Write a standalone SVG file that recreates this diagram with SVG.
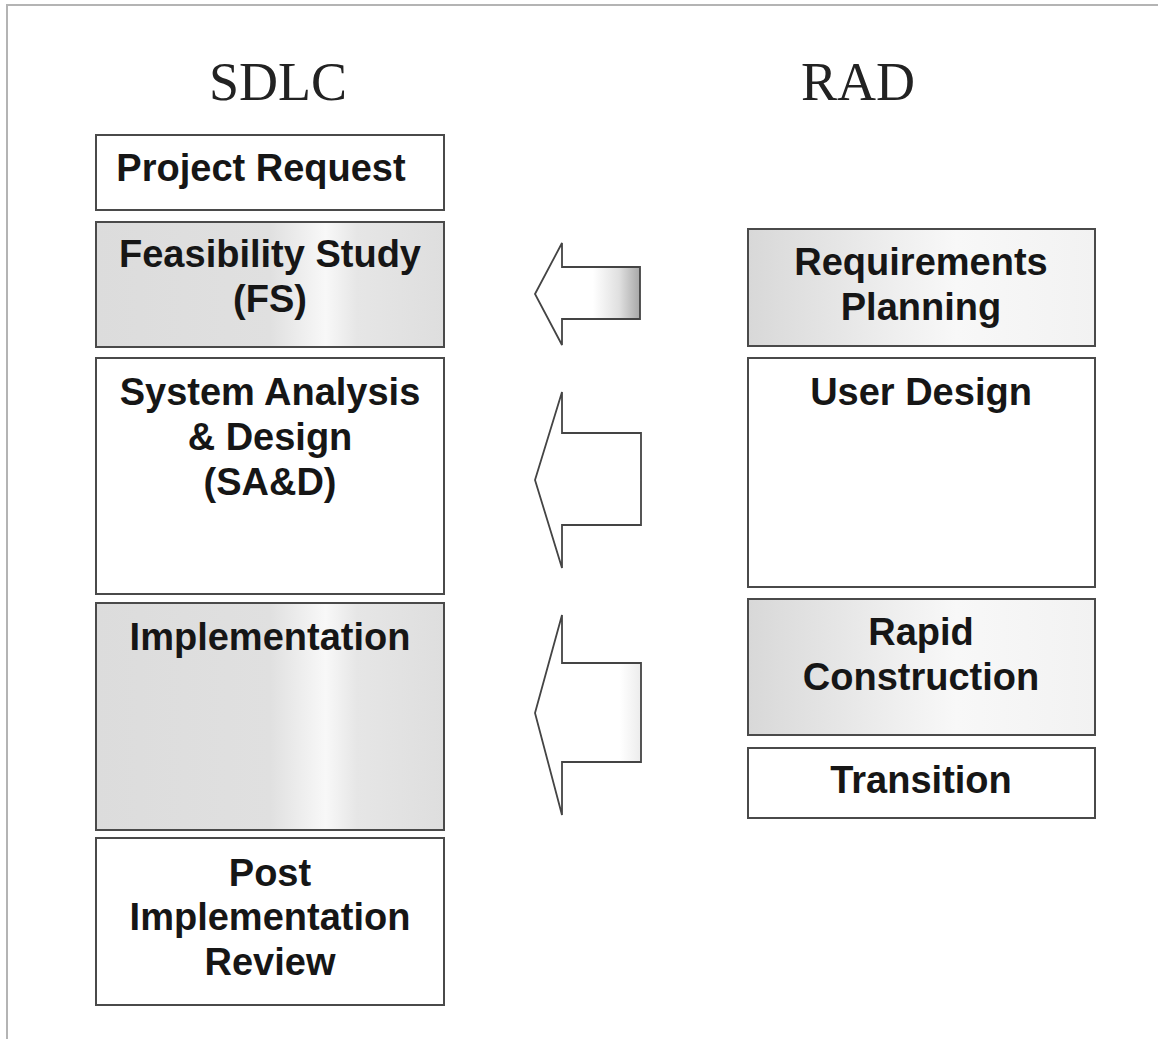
<svg xmlns="http://www.w3.org/2000/svg" width="1158" height="1039" viewBox="0 0 1158 1039">
<style>
.frame{fill:none;stroke:#b4b4b4;stroke-width:2}
.box{stroke:#4a4a4a;stroke-width:2}
.plain{fill:#ffffff}
.grayL{fill:url(#gL)}
.grayR{fill:url(#gR)}
.lbl{font-family:"Liberation Sans",Arial,sans-serif;font-weight:bold;font-size:38px;fill:#161616;text-anchor:middle}
.head{font-family:"Liberation Serif","Times New Roman",serif;font-size:54px;fill:#222;text-anchor:middle}
.arrow{stroke:#444;stroke-width:1.8;stroke-linejoin:miter}
</style>
<defs>
<linearGradient id="gL" x1="0" y1="0" x2="1" y2="0">
<stop offset="0" stop-color="#dcdcdc"/>
<stop offset="0.5" stop-color="#e0e0e0"/>
<stop offset="0.66" stop-color="#f8f8f8"/>
<stop offset="0.75" stop-color="#e6e6e6"/>
<stop offset="1" stop-color="#dedede"/>
</linearGradient>
<linearGradient id="gR" x1="0" y1="0" x2="1" y2="0">
<stop offset="0" stop-color="#d8d8d8"/>
<stop offset="0.3" stop-color="#e8e8e8"/>
<stop offset="0.6" stop-color="#f8f8f8"/>
<stop offset="1" stop-color="#f2f2f2"/>
</linearGradient>
<linearGradient id="gA1" x1="0" y1="0" x2="1" y2="0">
<stop offset="0" stop-color="#ffffff"/>
<stop offset="0.55" stop-color="#ffffff"/>
<stop offset="0.8" stop-color="#e0e0e0"/>
<stop offset="1" stop-color="#a8a8a8"/>
</linearGradient>
<linearGradient id="gA3" x1="0" y1="0" x2="1" y2="0">
<stop offset="0" stop-color="#ffffff"/>
<stop offset="0.8" stop-color="#ffffff"/>
<stop offset="1" stop-color="#ececec"/>
</linearGradient>
</defs>
<rect width="1158" height="1039" fill="#ffffff"/>
<path class="frame" d="M1158 5 H7 V1039"/>
<text class="head" x="278" y="100">SDLC</text>
<text class="head" x="858" y="100">RAD</text>

<g id="connectors">
<path class="arrow" fill="url(#gA1)" d="M535 294 L562 243 L562 267 L640 267 L640 319 L562 319 L562 345 Z"/>
<path class="arrow" fill="#ffffff" d="M535 480 L562 392 L562 433 L641 433 L641 525 L562 525 L562 568 Z"/>
<path class="arrow" fill="url(#gA3)" d="M535 713 L562 615 L562 663 L641 663 L641 762 L562 762 L562 815 Z"/>
</g>

<g id="project-request">
<rect class="box plain" x="96" y="135" width="348" height="75"/>
<text class="lbl" x="261" y="181">Project Request</text>
</g>
<g id="feasibility-study">
<rect class="box grayL" x="96" y="222" width="348" height="125"/>
<text class="lbl" x="270" y="267">Feasibility Study</text>
<text class="lbl" x="270" y="312">(FS)</text>
</g>
<g id="system-analysis">
<rect class="box plain" x="96" y="358" width="348" height="236"/>
<text class="lbl" x="270" y="405">System Analysis</text>
<text class="lbl" x="270" y="450">&amp; Design</text>
<text class="lbl" x="270" y="495">(SA&amp;D)</text>
</g>
<g id="implementation">
<rect class="box grayL" x="96" y="603" width="348" height="227"/>
<text class="lbl" x="270" y="650">Implementation</text>
</g>
<g id="post-implementation-review">
<rect class="box plain" x="96" y="838" width="348" height="167"/>
<text class="lbl" x="270" y="886">Post</text>
<text class="lbl" x="270" y="930">Implementation</text>
<text class="lbl" x="270" y="975">Review</text>
</g>

<g id="requirements-planning">
<rect class="box grayR" x="748" y="229" width="347" height="117"/>
<text class="lbl" x="921" y="275">Requirements</text>
<text class="lbl" x="921" y="320">Planning</text>
</g>
<g id="user-design">
<rect class="box plain" x="748" y="358" width="347" height="229"/>
<text class="lbl" x="921" y="405">User Design</text>
</g>
<g id="rapid-construction">
<rect class="box grayR" x="748" y="599" width="347" height="136"/>
<text class="lbl" x="921" y="645">Rapid</text>
<text class="lbl" x="921" y="690">Construction</text>
</g>
<g id="transition">
<rect class="box plain" x="748" y="748" width="347" height="70"/>
<text class="lbl" x="921" y="793">Transition</text>
</g>
</svg>
